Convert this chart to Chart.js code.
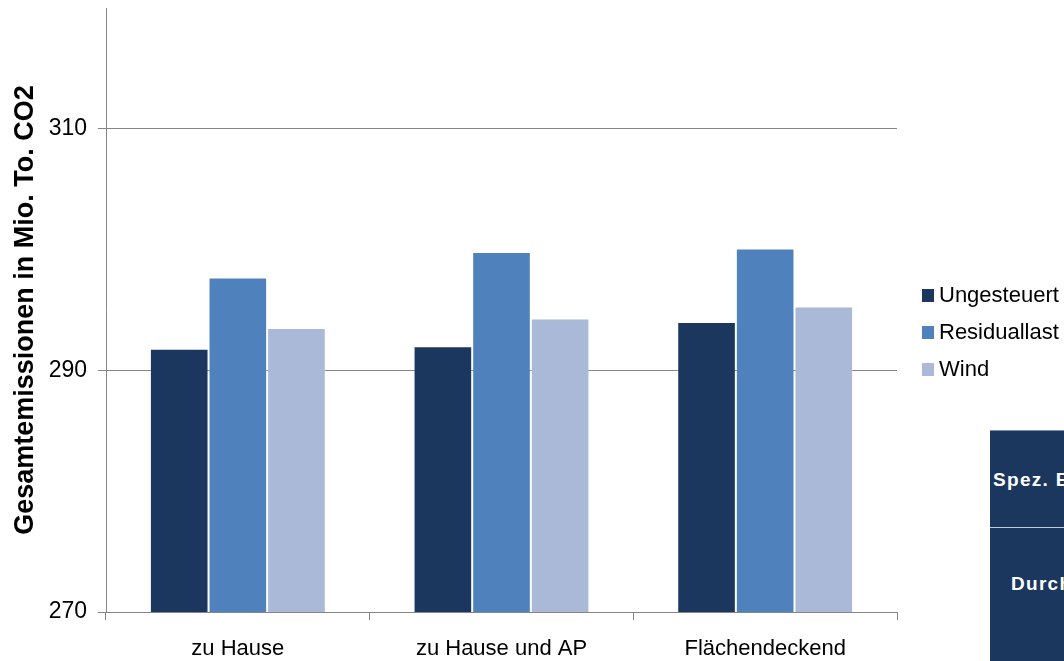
<!DOCTYPE html>
<html>
<head>
<meta charset="utf-8">
<script src="https://cdn.jsdelivr.net/npm/chart.js@4/dist/chart.umd.min.js"></script>
<style>
html,body{margin:0;padding:0;background:#fff;overflow:hidden;}
#wrap{position:relative;width:1064px;height:661px;overflow:hidden;}
#c{position:absolute;left:0;top:0;}
.sq{position:absolute;left:922px;width:12px;height:13px;}
.lt{position:absolute;left:939px;font:22px "Liberation Sans",Arial,sans-serif;line-height:22px;color:#000;white-space:nowrap;}
#tbl{position:absolute;left:990px;top:430px;width:80px;height:240px;background:#1B375E;border-top:1px solid #7f92ad;overflow:hidden;}
#tbl .div{position:absolute;left:0;top:96px;width:100%;height:1px;background:#c3cbd8;}
#tbl .tt{position:absolute;font:bold 19px "Liberation Sans",Arial,sans-serif;line-height:19px;letter-spacing:1.3px;color:#fff;white-space:nowrap;}
</style>
</head>
<body>
<div id="wrap">
<canvas id="c" width="1064" height="661"></canvas>
<div id="legend"></div>
<div id="tbl">
  <div class="div"></div>
  <div class="tt" style="left:3px;top:39px;">Spez. E</div>
  <div class="tt" style="left:21px;top:143px;">Durch</div>
</div>
</div>
<script>
const categories = ['zu Hause', 'zu Hause und AP', 'Flächendeckend'];
const seriesNames = ['Ungesteuert', 'Residuallast', 'Wind'];
const ungesteuert = [291.8, 292.0, 294.0];
const residuallast = [297.7, 299.8, 300.1];
const wind = [293.5, 294.3, 295.3];
const yTickValues = [270, 290, 310];
const yMin = 270;
const yMax = 320;
const yTitle = 'Gesamtemissionen in Mio. To. CO2';

const colors = ['#1B375E', '#4F81BD', '#AAB9D7'];
const FONT = '"Liberation Sans", Arial, sans-serif';
const GRID = '#868686';

const seriesData = [ungesteuert, residuallast, wind];

new Chart(document.getElementById('c'), {
  type: 'bar',
  data: {
    labels: categories,
    datasets: seriesNames.map((n, i) => ({
      label: n,
      data: seriesData[i],
      backgroundColor: colors[i],
      borderColor: 'rgba(255,255,255,0.25)',
      borderWidth: 1,
      categoryPercentage: 0.667,
      barPercentage: 1.0
    }))
  },
  options: {
    responsive: false,
    animation: false,
    devicePixelRatio: 1,
    layout: { padding: { left: 0, right: 167, top: 8, bottom: 0 } },
    plugins: { legend: { display: false }, tooltip: { enabled: false } },
    scales: {
      x: {
        afterFit: s => { s.height = 49; s.paddingLeft = 0; s.paddingRight = 0; },
        grid: { drawOnChartArea: false, drawTicks: true, tickLength: 8, color: GRID, offset: true },
        border: { display: true, color: GRID, width: 1 },
        ticks: { font: { family: FONT, size: 22 }, color: '#000', padding: 16, maxRotation: 0, autoSkip: false }
      },
      y: {
        min: yMin,
        max: yMax,
        afterBuildTicks: s => { s.ticks = yTickValues.map(v => ({ value: v })); },
        afterFit: s => { s.width = 106; s.paddingTop = 0; s.paddingBottom = 0; },
        grid: { color: GRID, lineWidth: 1, tickLength: 8, drawTicks: true },
        border: { display: true, color: GRID, width: 1 },
        ticks: { font: { family: FONT, size: 23 }, color: '#000', padding: 11 },
        title: { display: true, text: yTitle, color: '#000', font: { family: FONT, size: 27, weight: 'bold' }, padding: { top: 9, bottom: 0 } }
      }
    }
  }
});

// legend (HTML)
const legendCenters = [295, 332, 369];
const leg = document.getElementById('legend');
seriesNames.forEach((n, i) => {
  const sq = document.createElement('div');
  sq.className = 'sq';
  sq.style.top = (legendCenters[i] - 6.5) + 'px';
  sq.style.background = colors[i];
  leg.appendChild(sq);
  const t = document.createElement('div');
  t.className = 'lt';
  t.style.top = (legendCenters[i] - 10.7) + 'px';
  t.textContent = n;
  leg.appendChild(t);
});
</script>
</body>
</html>
